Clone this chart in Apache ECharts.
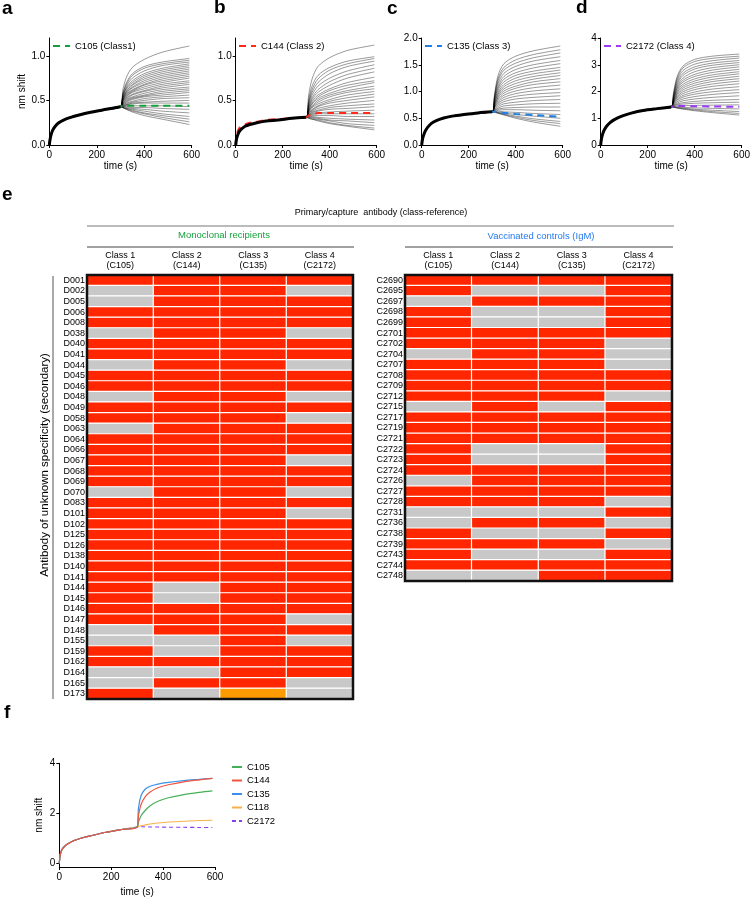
<!DOCTYPE html>
<html><head><meta charset="utf-8">
<script src="https://cdn.jsdelivr.net/npm/echarts@6/dist/echarts.min.js"></script>
<style>html,body{margin:0;padding:0;background:#fff}#c{width:753px;height:900px}</style>
</head><body><div id="c"></div>
<script>
// ---------- time grids ----------
const phase1Times = [0, 3, 8, 15, 25, 40, 60, 90, 130, 180, 240, 300];
const phase2Times = [310, 325, 350, 400, 475, 590];

// ---------- panel a ----------
const aPhase1 = [0, 0.06, 0.12, 0.17, 0.21, 0.25, 0.28, 0.31, 0.34, 0.37, 0.40, 0.43];
const aCurves = [
 [0.62,0.76,0.87,0.96,1.04,1.11],[0.58,0.70,0.80,0.88,0.93,0.97],[0.57,0.68,0.78,0.86,0.91,0.95],
 [0.56,0.66,0.75,0.83,0.89,0.93],[0.55,0.64,0.72,0.80,0.86,0.91],[0.54,0.63,0.70,0.78,0.84,0.89],
 [0.53,0.61,0.68,0.76,0.82,0.87],[0.53,0.60,0.67,0.74,0.80,0.85],[0.52,0.59,0.65,0.72,0.78,0.83],
 [0.51,0.58,0.64,0.70,0.76,0.81],[0.51,0.57,0.62,0.68,0.74,0.79],[0.50,0.56,0.61,0.67,0.72,0.77],
 [0.50,0.55,0.60,0.65,0.70,0.75],[0.49,0.54,0.59,0.63,0.68,0.72],[0.49,0.53,0.57,0.61,0.66,0.70],
 [0.48,0.52,0.56,0.60,0.64,0.68],[0.47,0.51,0.54,0.58,0.62,0.65],[0.47,0.50,0.53,0.56,0.60,0.63],
 [0.46,0.49,0.52,0.55,0.58,0.61],[0.46,0.48,0.51,0.54,0.56,0.59],[0.45,0.47,0.49,0.52,0.54,0.56],
 [0.45,0.46,0.48,0.50,0.52,0.53],[0.44,0.45,0.47,0.48,0.49,0.50],[0.44,0.45,0.46,0.47,0.47,0.47],
 [0.43,0.44,0.44,0.44,0.44,0.43],[0.43,0.43,0.42,0.42,0.41,0.40],[0.43,0.42,0.41,0.40,0.38,0.36],
 [0.42,0.41,0.40,0.38,0.35,0.32],[0.42,0.41,0.39,0.36,0.33,0.29],[0.42,0.40,0.38,0.35,0.31,0.26],
 [0.42,0.40,0.37,0.33,0.29,0.23]
];
const aRefPhase1 = aPhase1;
const aRef = [0.44,0.44,0.44,0.44,0.44,0.44];

// ---------- panel b ----------
const bPhase1 = [0, 0.06, 0.11, 0.15, 0.18, 0.21, 0.23, 0.25, 0.27, 0.28, 0.30, 0.31];
const bCurves = [
 [0.55,0.74,0.88,0.98,1.06,1.12],[0.50,0.66,0.78,0.87,0.94,0.99],[0.48,0.62,0.74,0.84,0.91,0.97],
 [0.46,0.59,0.70,0.80,0.88,0.94],[0.45,0.56,0.66,0.75,0.83,0.90],[0.43,0.53,0.62,0.71,0.79,0.86],
 [0.42,0.51,0.59,0.67,0.75,0.82],[0.41,0.49,0.56,0.63,0.70,0.76],[0.40,0.47,0.54,0.61,0.67,0.72],
 [0.39,0.46,0.52,0.58,0.64,0.70],[0.38,0.44,0.50,0.56,0.61,0.66],[0.38,0.43,0.48,0.54,0.59,0.63],
 [0.37,0.42,0.46,0.51,0.56,0.60],[0.36,0.40,0.44,0.49,0.53,0.57],[0.36,0.39,0.43,0.47,0.50,0.54],
 [0.35,0.38,0.41,0.44,0.47,0.50],[0.34,0.37,0.39,0.42,0.44,0.46],[0.34,0.36,0.38,0.40,0.41,0.43],
 [0.33,0.35,0.36,0.37,0.38,0.39],[0.33,0.34,0.35,0.35,0.35,0.35],[0.32,0.33,0.33,0.33,0.32,0.32],
 [0.32,0.32,0.31,0.30,0.29,0.28],[0.31,0.31,0.30,0.28,0.27,0.25],[0.31,0.30,0.29,0.27,0.24,0.22],
 [0.30,0.29,0.28,0.25,0.22,0.19],[0.30,0.29,0.27,0.24,0.21,0.17]
];
const bRefPhase1 = [0, 0.09, 0.15, 0.19, 0.21, 0.23, 0.25, 0.26, 0.28, 0.29, 0.30, 0.31];
const bRef = [0.33,0.34,0.36,0.36,0.36,0.36];

// ---------- panel c ----------
const cPhase1 = [0, 0.10, 0.18, 0.26, 0.33, 0.40, 0.45, 0.50, 0.54, 0.57, 0.60, 0.62];
const cCurves = [
 [0.95,1.30,1.52,1.66,1.76,1.85],[0.92,1.24,1.45,1.59,1.69,1.78],[0.90,1.20,1.40,1.53,1.63,1.72],
 [0.88,1.15,1.34,1.47,1.57,1.65],[0.86,1.10,1.28,1.41,1.50,1.58],[0.84,1.06,1.23,1.35,1.44,1.52],
 [0.82,1.02,1.18,1.30,1.38,1.45],[0.80,0.98,1.13,1.25,1.33,1.40],[0.78,0.95,1.09,1.20,1.28,1.35],
 [0.77,0.92,1.05,1.15,1.23,1.30],[0.75,0.89,1.01,1.10,1.18,1.24],[0.74,0.86,0.97,1.06,1.13,1.18],
 [0.72,0.83,0.93,1.01,1.07,1.12],[0.71,0.80,0.89,0.96,1.01,1.05],[0.70,0.78,0.85,0.91,0.95,0.98],
 [0.69,0.75,0.81,0.86,0.89,0.92],[0.67,0.72,0.77,0.80,0.83,0.85],[0.66,0.69,0.73,0.75,0.77,0.78],
 [0.65,0.67,0.69,0.70,0.71,0.71],[0.64,0.65,0.66,0.66,0.65,0.64],[0.63,0.63,0.62,0.61,0.59,0.57],
 [0.62,0.61,0.60,0.57,0.54,0.50],[0.62,0.60,0.58,0.54,0.49,0.44],[0.62,0.60,0.57,0.52,0.46,0.40],
 [0.61,0.59,0.56,0.50,0.43,0.35]
];
const cRefPhase1 = cPhase1;
const cRef = [0.62,0.61,0.60,0.58,0.56,0.53];

// ---------- panel d ----------
const dPhase1 = [0, 0.22, 0.40, 0.56, 0.70, 0.84, 0.96, 1.08, 1.19, 1.29, 1.36, 1.42];
const dCurves = [
 [1.95,2.55,2.95,3.20,3.32,3.40],[1.90,2.48,2.88,3.12,3.24,3.32],[1.85,2.40,2.78,3.02,3.15,3.25],
 [1.82,2.32,2.68,2.92,3.06,3.16],[1.78,2.25,2.60,2.84,2.98,3.08],[1.75,2.18,2.50,2.74,2.89,3.00],
 [1.72,2.12,2.42,2.64,2.80,2.92],[1.70,2.06,2.35,2.56,2.71,2.83],[1.67,2.00,2.27,2.47,2.62,2.74],
 [1.65,1.95,2.20,2.39,2.54,2.66],[1.63,1.90,2.13,2.31,2.45,2.57],[1.61,1.85,2.06,2.23,2.37,2.48],
 [1.59,1.80,1.99,2.15,2.28,2.39],[1.57,1.76,1.92,2.07,2.19,2.29],[1.55,1.71,1.85,1.98,2.09,2.18],
 [1.53,1.67,1.79,1.90,1.99,2.07],[1.51,1.62,1.72,1.81,1.89,1.96],[1.49,1.57,1.65,1.72,1.78,1.84],
 [1.47,1.53,1.58,1.63,1.67,1.70],[1.46,1.50,1.53,1.56,1.58,1.60],[1.44,1.46,1.47,1.48,1.49,1.50],
 [1.43,1.42,1.41,1.39,1.37,1.35],[1.42,1.40,1.38,1.34,1.30,1.25],[1.42,1.39,1.36,1.31,1.25,1.18],
 [1.41,1.38,1.34,1.28,1.21,1.12]
];
const dRefPhase1 = dPhase1;
const dRef = [1.45,1.46,1.46,1.45,1.44,1.43];

// ---------- panel e (heatmaps) ----------
const classLabels = ['Class 1\n(C105)', 'Class 2\n(C144)', 'Class 3\n(C135)', 'Class 4\n(C2172)'];
const leftRows = ['D001','D002','D005','D006','D008','D038','D040','D041','D044','D045','D046','D048','D049','D058','D063','D064','D066','D067','D068','D069','D070','D083','D101','D102','D125','D126','D138','D140','D141','D144','D145','D146','D147','D148','D155','D159','D162','D164','D165','D173'];
const leftVals = [
 [1,1,1,1],[0,1,1,0],[0,1,1,1],[1,1,1,1],[1,1,1,1],[0,1,1,0],[1,1,1,1],[1,1,1,1],[0,1,1,0],[1,1,1,1],
 [1,1,1,1],[0,1,1,0],[1,1,1,1],[1,1,1,0],[0,1,1,1],[1,1,1,1],[1,1,1,1],[1,1,1,0],[1,1,1,1],[1,1,1,1],
 [0,1,1,0],[1,1,1,1],[1,1,1,0],[1,1,1,1],[1,1,1,1],[1,1,1,1],[1,1,1,1],[1,1,1,1],[1,1,1,1],[1,0,1,1],
 [1,0,1,1],[1,1,1,1],[1,1,1,0],[0,1,1,1],[0,0,1,0],[1,0,1,1],[1,1,1,1],[0,0,1,1],[0,1,1,0],[1,0,2,0]
];
const rightRows = ['C2690','C2695','C2697','C2698','C2699','C2701','C2702','C2704','C2707','C2708','C2709','C2712','C2715','C2717','C2719','C2721','C2722','C2723','C2724','C2726','C2727','C2728','C2731','C2736','C2738','C2739','C2743','C2744','C2748'];
const rightVals = [
 [1,1,1,1],[1,0,0,1],[0,1,1,1],[1,0,0,1],[1,0,0,1],[1,1,1,1],[1,1,1,0],[0,1,1,0],[1,1,1,0],[1,1,1,1],
 [1,1,1,1],[1,1,1,0],[0,1,0,1],[1,1,1,1],[1,1,1,1],[1,1,1,1],[1,0,0,1],[1,0,0,1],[1,1,1,1],[0,1,1,1],
 [1,1,1,1],[1,1,1,0],[0,0,0,1],[0,1,1,0],[1,0,0,1],[1,1,1,0],[1,0,0,1],[1,1,1,1],[0,0,1,1]
];

// ---------- panel f ----------
const fPhase1Times = [0, 3, 8, 15, 25, 40, 60, 90, 130, 180, 240, 300];
const fPhase2Times = [305, 315, 330, 350, 380, 420, 480, 540, 590];
const fShared = [0, 0.30, 0.50, 0.62, 0.72, 0.82, 0.92, 1.02, 1.12, 1.24, 1.35, 1.45];
const fNames = ['C105', 'C144', 'C135', 'C118', 'C2172'];
const fC105 = [1.65, 1.90, 2.10, 2.30, 2.48, 2.62, 2.75, 2.84, 2.90];
const fC144 = [1.90, 2.35, 2.65, 2.85, 3.02, 3.14, 3.26, 3.34, 3.40];
const fC135 = [2.20, 2.70, 2.95, 3.08, 3.17, 3.24, 3.31, 3.36, 3.40];
const fC118 = [1.47, 1.50, 1.53, 1.57, 1.61, 1.65, 1.68, 1.71, 1.72];
const fC2172 = [1.46, 1.46, 1.46, 1.45, 1.45, 1.44, 1.44, 1.43, 1.43];

// ================= build =================
const FONT = 'Liberation Sans';
function pairs(times, vals) { return times.map((t, i) => [t, vals[i]]); }

const grids = [
  {left: 49.3, top: 38, width: 142.4, height: 107},
  {left: 235.7, top: 38, width: 141, height: 107},
  {left: 421.7, top: 38, width: 141, height: 107},
  {left: 600.7, top: 38, width: 141, height: 107},
  {left: 87, top: 275, width: 266, height: 424, show: true, borderColor: '#111', borderWidth: 2.5, backgroundColor: 'transparent', z: 5},
  {left: 405, top: 275, width: 267, height: 306, show: true, borderColor: '#111', borderWidth: 2.5, backgroundColor: 'transparent', z: 5},
  {left: 59.3, top: 763.3, width: 155.7, height: 103.7}
];

const xAxes = [], yAxes = [];
function valueX(gi, nameGap) {
  return {type: 'value', gridIndex: gi, min: 0, max: 600, interval: 200,
    name: 'time (s)', nameLocation: 'middle', nameGap: nameGap,
    nameTextStyle: {fontSize: 10, color: '#000', fontFamily: FONT},
    axisLine: {show: true, onZero: false, lineStyle: {color: '#000', width: 1}},
    axisTick: {show: true, length: 3, lineStyle: {color: '#000'}},
    axisLabel: {fontSize: 10, color: '#000', margin: 5, fontFamily: FONT},
    splitLine: {show: false}};
}
function valueY(gi, min, max, ticks, fmt, name, nameGap) {
  return {type: 'value', gridIndex: gi, min: min, max: max,
    name: name || '', nameLocation: 'middle', nameGap: nameGap || 20,
    nameTextStyle: {fontSize: 10, color: '#000', fontFamily: FONT},
    axisLine: {show: true, onZero: false, lineStyle: {color: '#000', width: 1}},
    axisTick: {show: true, length: 3, customValues: ticks, lineStyle: {color: '#000'}},
    axisLabel: {fontSize: 10, color: '#000', margin: 4, customValues: ticks, fontFamily: FONT, formatter: fmt},
    splitLine: {show: false}};
}
const f1 = v => v.toFixed(1);
const f0 = v => String(Math.round(v));
xAxes.push(valueX(0, 14)); yAxes.push(valueY(0, 0, 1.2, [0, 0.5, 1.0], f1, 'nm shift', 17));
xAxes.push(valueX(1, 14)); yAxes.push(valueY(1, 0, 1.2, [0, 0.5, 1.0], f1));
xAxes.push(valueX(2, 14)); yAxes.push(valueY(2, 0, 2.0, [0, 0.5, 1.0, 1.5, 2.0], f1));
xAxes.push(valueX(3, 14)); yAxes.push(valueY(3, 0, 4, [0, 1, 2, 3, 4], f0));
function heatX(gi) {
  return {type: 'category', gridIndex: gi, position: 'top', data: classLabels,
    axisLine: {show: false}, axisTick: {show: false}, splitLine: {show: false},
    axisLabel: {interval: 0, fontSize: 9, lineHeight: 10.5, color: '#000', margin: 4, fontFamily: FONT}};
}
function heatY(gi, rows) {
  return {type: 'category', gridIndex: gi, inverse: true, data: rows,
    axisLine: {show: false}, axisTick: {show: false}, splitLine: {show: false},
    axisLabel: {interval: 0, fontSize: 9, color: '#000', margin: 2, fontFamily: FONT}};
}
xAxes.push(heatX(4)); yAxes.push(heatY(4, leftRows));
xAxes.push(heatX(5)); yAxes.push(heatY(5, rightRows));
xAxes.push(valueX(6, 20)); yAxes.push(valueY(6, -0.15, 4, [0, 2, 4], f0, 'nm shift', 15));

const series = [];
function addPanel(gi, p1, curves, refP1, ref, refName, refColor) {
  curves.forEach(c => series.push({
    type: 'line', xAxisIndex: gi, yAxisIndex: gi, symbol: 'none', smooth: 0.3, silent: true,
    data: pairs(phase1Times, p1).concat(pairs(phase2Times, c)),
    lineStyle: {color: 'rgba(0,0,0,0.68)', width: 0.6}, z: 2
  }));
  series.push({
    name: refName, type: 'line', xAxisIndex: gi, yAxisIndex: gi, symbol: 'none', smooth: 0.3, silent: true,
    data: pairs(phase1Times, refP1).concat(pairs(phase2Times, ref)),
    lineStyle: {color: refColor, width: 2, type: [7, 5]}, itemStyle: {color: refColor}, z: 3
  });
  series.push({
    type: 'line', xAxisIndex: gi, yAxisIndex: gi, symbol: 'none', smooth: 0.3, silent: true,
    data: pairs(phase1Times, p1),
    lineStyle: {color: '#000', width: 3}, z: 4
  });
}
addPanel(0, aPhase1, aCurves, aRefPhase1, aRef, 'C105 (Class1)', '#13a03a');
addPanel(1, bPhase1, bCurves, bRefPhase1, bRef, 'C144 (Class 2)', '#ff2a1a');
addPanel(2, cPhase1, cCurves, cRefPhase1, cRef, 'C135 (Class 3)', '#1e7fe6');
addPanel(3, dPhase1, dCurves, dRefPhase1, dRef, 'C2172 (Class 4)', '#9a3cf5');

function heatData(vals) {
  const out = [];
  vals.forEach((row, r) => row.forEach((v, c) => out.push([c, r, v])));
  return out;
}
const heatIdx = [];
heatIdx.push(series.length);
series.push({type: 'heatmap', xAxisIndex: 4, yAxisIndex: 4, data: heatData(leftVals), silent: true,
  itemStyle: {borderColor: '#fff', borderWidth: 1.2}});
heatIdx.push(series.length);
series.push({type: 'heatmap', xAxisIndex: 5, yAxisIndex: 5, data: heatData(rightVals), silent: true,
  itemStyle: {borderColor: '#fff', borderWidth: 1.2}});

const fColors = {C105: '#45b058', C144: '#f0553f', C135: '#3a90ea', C118: '#f6b24a', C2172: '#8b3ef0'};
const fVals = {C105: fC105, C144: fC144, C135: fC135, C118: fC118, C2172: fC2172};
['C2172', 'C118', 'C105', 'C135', 'C144'].forEach(n => {
  series.push({
    name: n, type: 'line', xAxisIndex: 6, yAxisIndex: 6, symbol: 'none', smooth: 0.3, silent: true,
    data: pairs(fPhase1Times, fShared).concat(pairs(fPhase2Times, fVals[n])),
    lineStyle: {color: fColors[n], width: 1.2, type: n === 'C2172' ? [4, 3] : 'solid'},
    itemStyle: {color: fColors[n]}, z: 3
  });
});

function topLegend(name, left) {
  return {data: [name], left: left, top: 41, orient: 'horizontal', selectedMode: false,
    itemWidth: 17, itemHeight: 10, padding: 0, itemGap: 4,
    itemStyle: {opacity: 0},
    textStyle: {fontSize: 9.5, color: '#000', fontFamily: FONT}};
}
const legends = [
  topLegend('C105 (Class1)', 52),
  topLegend('C144 (Class 2)', 238),
  topLegend('C135 (Class 3)', 424),
  topLegend('C2172 (Class 4)', 603),
  {data: fNames, left: 231, top: 762, orient: 'vertical', selectedMode: false,
    itemWidth: 10, itemHeight: 8, itemGap: 3.5, padding: 0,
    itemStyle: {opacity: 0},
    textStyle: {fontSize: 9.5, color: '#000', fontFamily: FONT}}
];

function txt(text, x, y, opts) {
  return Object.assign({type: 'text', x: x, y: y, silent: true,
    style: Object.assign({text: text, fontFamily: FONT, fontSize: 9, fill: '#000', align: 'center', verticalAlign: 'middle'}, (opts && opts.style) || {})},
    (opts && opts.el) || {});
}
function letter(t, x, y) { return txt(t, x, y, {style: {fontSize: 19, fontWeight: 'bold', align: 'left'}}); }
function hline(x1, x2, y, color, w) {
  return {type: 'line', silent: true, shape: {x1: x1, y1: y, x2: x2, y2: y}, style: {stroke: color, lineWidth: w}};
}
const graphics = [
  letter('a', 2, 9), letter('b', 214, 8), letter('c', 387, 9), letter('d', 576, 8),
  letter('e', 2, 195), letter('f', 4, 713),
  txt('Primary/capture  antibody (class-reference)', 381, 213),
  hline(87, 674, 226, '#bbbbbb', 2),
  txt('Monoclonal recipients', 224, 235.5, {style: {fill: '#17a03c', fontSize: 9.5}}),
  txt('Vaccinated controls (IgM)', 541, 236.5, {style: {fill: '#2379f2', fontSize: 9.5}}),
  hline(87, 354, 247, '#444', 1),
  hline(405, 673, 247, '#444', 1),
  {type: 'line', silent: true, shape: {x1: 53, y1: 276, x2: 53, y2: 699}, style: {stroke: '#555', lineWidth: 1}},
  txt('Antibody of unknown specificity (secondary)', 45, 465, {style: {fontSize: 11.5}, el: {rotation: Math.PI / 2}})
];

const chart = echarts.init(document.getElementById('c'), null, {renderer: 'canvas'});
chart.setOption({
  animation: false,
  backgroundColor: '#fff',
  textStyle: {fontFamily: FONT},
  grid: grids,
  xAxis: xAxes,
  yAxis: yAxes,
  legend: legends,
  visualMap: [{type: 'piecewise', show: false, dimension: 2, seriesIndex: heatIdx,
    pieces: [{value: 0, color: '#c8c8c8'}, {value: 1, color: '#ff2600'}, {value: 2, color: '#ff9a00'}]}],
  series: series,
  graphic: graphics
});
</script>
</body></html>
